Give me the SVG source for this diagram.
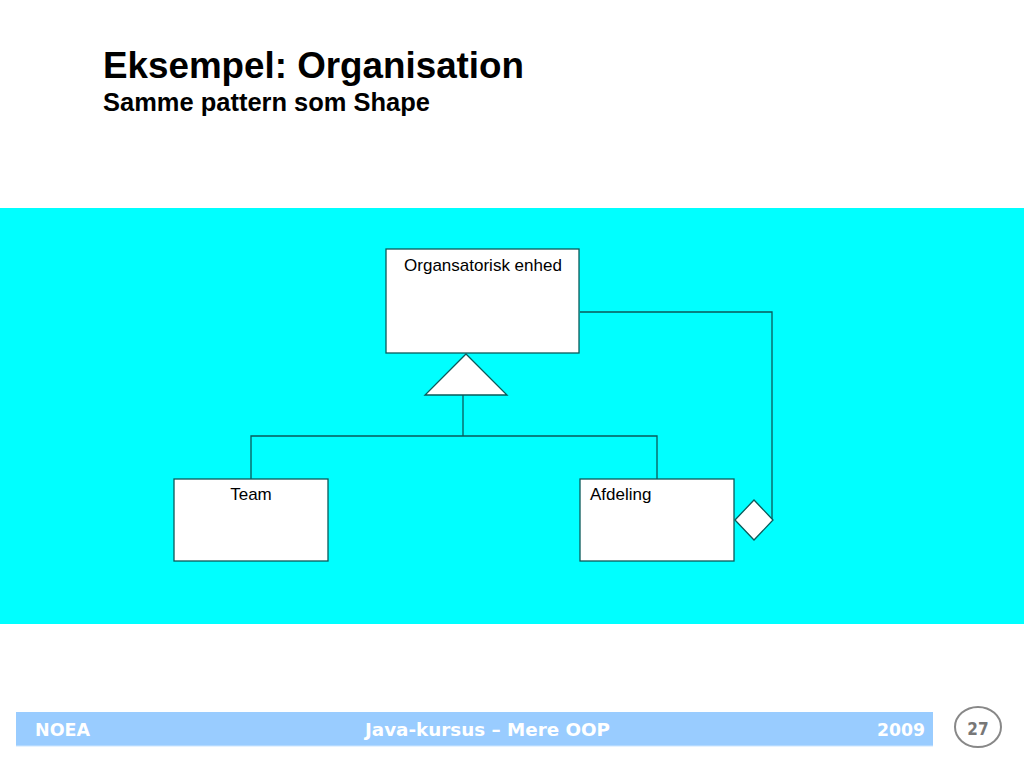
<svg xmlns="http://www.w3.org/2000/svg" width="1024" height="768" viewBox="0 0 1024 768">
<style>
.box{fill:#fff;stroke:#0a5a5a;stroke-width:1.3}
.con{fill:none;stroke:#0a5a5a;stroke-width:1.3}
.lbl{font-family:"Liberation Sans",Arial,sans-serif;font-size:17px;fill:#000}
.ft{font-family:"DejaVu Sans",sans-serif;font-weight:bold;font-size:17px;fill:#fff}
</style>
<rect width="1024" height="768" fill="#fff"/>
<text x="103" y="78" font-family="Liberation Sans,Arial,sans-serif" font-weight="bold" font-size="37" fill="#000" textLength="421" lengthAdjust="spacingAndGlyphs">Eksempel: Organisation</text>
<text x="103" y="111" font-family="Liberation Sans,Arial,sans-serif" font-weight="bold" font-size="25" fill="#000" textLength="327" lengthAdjust="spacingAndGlyphs">Samme pattern som Shape</text>
<rect x="0" y="208" width="1024" height="416" fill="#00ffff"/>
<g id="connectors">
<polyline class="con" points="580,312 772,312 772,520"/>
<polyline class="con" points="463,395 463,436"/>
<polyline class="con" points="251,479 251,436 657,436 657,479"/>
<polygon class="box" points="466,354 507,395 425,395"/>
<polygon class="box" points="735,520 754,500 773,520 754,540"/>
</g>
<g id="organisatorisk-enhed">
<rect class="box" x="386" y="249" width="193" height="104"/>
<text class="lbl" x="483" y="271" text-anchor="middle">Organsatorisk enhed</text>
</g>
<g id="team">
<rect class="box" x="174" y="479" width="154" height="82"/>
<text class="lbl" x="251" y="500" text-anchor="middle">Team</text>
</g>
<g id="afdeling">
<rect class="box" x="580" y="479" width="154" height="82"/>
<text class="lbl" x="590" y="500">Afdeling</text>
</g>
<g id="footer">
<rect x="16" y="712" width="917" height="34" fill="#99ccff"/>
<line x1="16" y1="746" x2="933" y2="746" stroke="#cce6ff" stroke-width="1"/>
<text class="ft" x="35" y="736" textLength="55" lengthAdjust="spacingAndGlyphs">NOEA</text>
<text class="ft" x="365" y="736" textLength="245" lengthAdjust="spacingAndGlyphs">Java-kursus – Mere OOP</text>
<text class="ft" x="877" y="736" textLength="48" lengthAdjust="spacingAndGlyphs">2009</text>
<ellipse cx="978" cy="727" rx="23" ry="20" fill="#fff" stroke="#888" stroke-width="2"/>
<text x="978" y="735" text-anchor="middle" font-family="DejaVu Sans Condensed,DejaVu Sans,sans-serif" font-weight="bold" font-size="17" fill="#777">27</text>
</g>
</svg>
